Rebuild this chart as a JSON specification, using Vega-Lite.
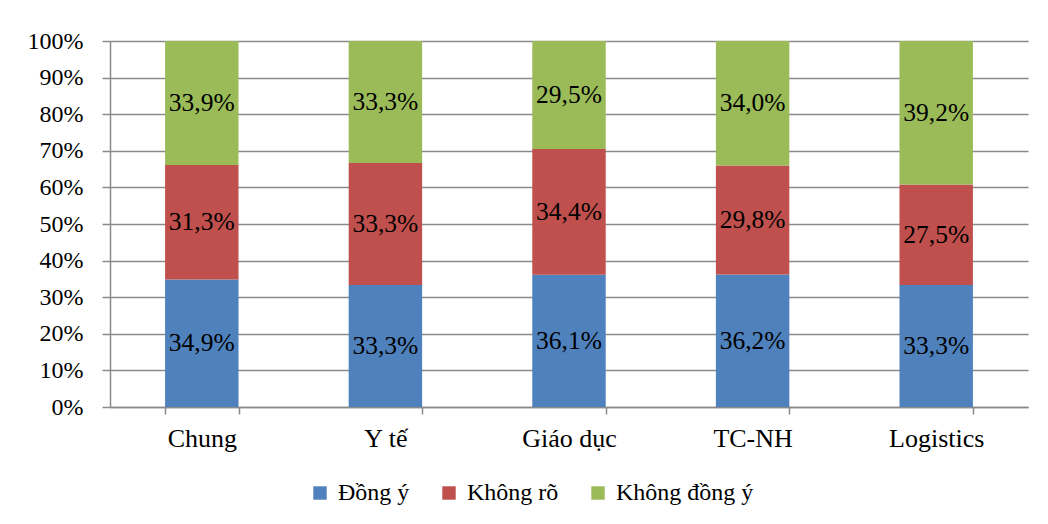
{
  "$schema": "https://vega.github.io/schema/vega-lite/v6.json",
  "width": 918,
  "height": 366,
  "autosize": {"type": "none"},
  "padding": {"left": 110, "top": 41, "right": 20, "bottom": 117},
  "background": "white",
  "config": {
    "font": "Liberation Serif",
    "view": {"stroke": null},
    "locale": {
      "number": {"decimal": ",", "thousands": ".", "grouping": [3], "currency": ["", " €"]}
    }
  },
  "data": {
    "values": [
      {"nhom": "Chung", "y_kien": "Đồng ý", "thu_tu": 1, "ty_le": 0.349},
      {"nhom": "Chung", "y_kien": "Không rõ", "thu_tu": 2, "ty_le": 0.313},
      {"nhom": "Chung", "y_kien": "Không đồng ý", "thu_tu": 3, "ty_le": 0.339},
      {"nhom": "Y tế", "y_kien": "Đồng ý", "thu_tu": 1, "ty_le": 0.333},
      {"nhom": "Y tế", "y_kien": "Không rõ", "thu_tu": 2, "ty_le": 0.333},
      {"nhom": "Y tế", "y_kien": "Không đồng ý", "thu_tu": 3, "ty_le": 0.333},
      {"nhom": "Giáo dục", "y_kien": "Đồng ý", "thu_tu": 1, "ty_le": 0.361},
      {"nhom": "Giáo dục", "y_kien": "Không rõ", "thu_tu": 2, "ty_le": 0.344},
      {"nhom": "Giáo dục", "y_kien": "Không đồng ý", "thu_tu": 3, "ty_le": 0.295},
      {"nhom": "TC-NH", "y_kien": "Đồng ý", "thu_tu": 1, "ty_le": 0.362},
      {"nhom": "TC-NH", "y_kien": "Không rõ", "thu_tu": 2, "ty_le": 0.298},
      {"nhom": "TC-NH", "y_kien": "Không đồng ý", "thu_tu": 3, "ty_le": 0.340},
      {"nhom": "Logistics", "y_kien": "Đồng ý", "thu_tu": 1, "ty_le": 0.333},
      {"nhom": "Logistics", "y_kien": "Không rõ", "thu_tu": 2, "ty_le": 0.275},
      {"nhom": "Logistics", "y_kien": "Không đồng ý", "thu_tu": 3, "ty_le": 0.392}
    ]
  },
  "transform": [
    {
      "stack": "ty_le",
      "groupby": ["nhom"],
      "sort": [{"field": "thu_tu", "order": "ascending"}],
      "offset": "normalize",
      "as": ["y_duoi", "y_tren"]
    },
    {"calculate": "(datum.y_duoi + datum.y_tren) / 2", "as": "y_giua"}
  ],
  "encoding": {
    "x": {
      "field": "nhom",
      "type": "nominal",
      "sort": ["Chung", "Y tế", "Giáo dục", "TC-NH", "Logistics"],
      "scale": {"paddingInner": 0.6, "paddingOuter": 0.3},
      "axis": {
        "title": null,
        "labelAngle": 0,
        "labelFont": "Liberation Serif",
        "labelFontSize": 26,
        "labelColor": "black",
        "labelPadding": 11,
        "tickBand": "extent",
        "tickSize": 7,
        "tickColor": "#8a8a8a",
        "tickWidth": 1.5,
        "domainColor": "#8a8a8a",
        "domainWidth": 1.5,
        "grid": false
      }
    }
  },
  "layer": [
    {
      "mark": {"type": "bar"},
      "encoding": {
        "y": {
          "field": "y_duoi",
          "type": "quantitative",
          "scale": {"domain": [0, 1]},
          "axis": {
            "title": null,
            "values": [0, 0.1, 0.2, 0.3, 0.4, 0.5, 0.6, 0.7, 0.8, 0.9, 1],
            "labelOverlap": false,
            "format": ".0%",
            "labelFont": "Liberation Serif",
            "labelFontSize": 24,
            "labelColor": "black",
            "labelPadding": 19,
            "tickSize": 8,
            "tickColor": "#8a8a8a",
            "tickWidth": 1.5,
            "domainColor": "#8a8a8a",
            "domainWidth": 1.5,
            "gridColor": "#8a8a8a",
            "gridWidth": 1.5
          }
        },
        "y2": {"field": "y_tren"},
        "color": {
          "field": "y_kien",
          "type": "nominal",
          "scale": {
            "domain": ["Đồng ý", "Không rõ", "Không đồng ý"],
            "range": ["#4F81BD", "#C0504D", "#9BBB59"]
          },
          "legend": {
            "title": null,
            "orient": "none",
            "direction": "horizontal",
            "legendX": 198,
            "legendY": 440,
            "symbolType": "square",
            "symbolSize": 180,
            "symbolStrokeWidth": 0,
            "labelFont": "Liberation Serif",
            "labelFontSize": 24,
            "labelColor": "black",
            "labelOffset": 6,
            "columnPadding": 27
          }
        }
      }
    },
    {
      "mark": {"type": "text", "font": "Liberation Serif", "fontSize": 25.5, "color": "black"},
      "encoding": {
        "y": {
          "field": "y_giua",
          "type": "quantitative",
          "axis": {
            "title": null,
            "values": [0, 0.1, 0.2, 0.3, 0.4, 0.5, 0.6, 0.7, 0.8, 0.9, 1],
            "labelOverlap": false,
            "format": ".0%",
            "labelFont": "Liberation Serif",
            "labelFontSize": 24,
            "labelColor": "black",
            "labelPadding": 19,
            "tickSize": 8,
            "tickColor": "#8a8a8a",
            "tickWidth": 1.5,
            "domainColor": "#8a8a8a",
            "domainWidth": 1.5,
            "gridColor": "#8a8a8a",
            "gridWidth": 1.5
          }
        },
        "text": {"field": "ty_le", "type": "quantitative", "format": ".1%"}
      }
    }
  ]
}
